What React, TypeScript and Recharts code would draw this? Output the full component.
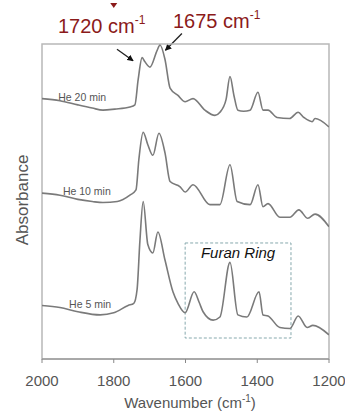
import React from 'react';
import { LineChart, Line, XAxis, YAxis, ReferenceArea, Customized } from 'recharts';

// ---- data (wavenumber cm-1, absorbance a.u. with vertical offsets) ----
const wn20 = [2000, 1950, 1900, 1860, 1830, 1797, 1755, 1741, 1732, 1721, 1713, 1699, 1679, 1671, 1657, 1643, 1621, 1601, 1579, 1546, 1518, 1504, 1487, 1476, 1465, 1454, 1438, 1420, 1398, 1384, 1370, 1345, 1310, 1286, 1270, 1247, 1239, 1200];
const ab20 = [2.48, 2.46, 2.42, 2.39, 2.37, 2.38, 2.40, 2.42, 2.66, 2.87, 2.83, 2.78, 2.94, 2.99, 2.85, 2.58, 2.51, 2.45, 2.48, 2.37, 2.32, 2.35, 2.47, 2.69, 2.51, 2.37, 2.36, 2.37, 2.54, 2.37, 2.37, 2.30, 2.29, 2.35, 2.30, 2.26, 2.29, 2.21];

const wn10 = [2000, 1950, 1900, 1860, 1830, 1790, 1755, 1738, 1730, 1718, 1705, 1691, 1674, 1657, 1643, 1615, 1601, 1579, 1532, 1504, 1476, 1456, 1420, 1398, 1384, 1370, 1337, 1309, 1284, 1259, 1239, 1200];
const ab10 = [1.58, 1.56, 1.52, 1.50, 1.49, 1.50, 1.56, 1.61, 1.90, 2.16, 2.04, 1.94, 2.15, 1.96, 1.69, 1.64, 1.59, 1.66, 1.47, 1.47, 1.85, 1.50, 1.47, 1.66, 1.45, 1.48, 1.35, 1.35, 1.42, 1.34, 1.38, 1.26];

const wn5 = [2000, 1950, 1900, 1838, 1800, 1760, 1744, 1735, 1727, 1718, 1705, 1691, 1677, 1657, 1635, 1621, 1601, 1576, 1562, 1551, 1523, 1504, 1476, 1454, 1429, 1395, 1384, 1370, 1337, 1309, 1286, 1261, 1245, 1200];
const ab5 = [0.51, 0.49, 0.45, 0.42, 0.44, 0.51, 0.53, 0.66, 1.13, 1.50, 1.09, 1.01, 1.21, 0.94, 0.64, 0.53, 0.44, 0.64, 0.54, 0.45, 0.37, 0.40, 0.92, 0.42, 0.40, 0.64, 0.42, 0.41, 0.30, 0.29, 0.41, 0.30, 0.32, 0.23];

const xTicks = [2000, 1800, 1600, 1400, 1200];
const seriesLabels = ['He 20 min', 'He 10 min', 'He 5 min'];
const labelPos = [
  { w: 1888, a: 2.50 },
  { w: 1875, a: 1.60 },
  { w: 1866, a: 0.52 },
];
const peakLabels = ['1720', '1675'];
const furanBox = { x1: 1601, x2: 1306, y1: 0.2, y2: 1.105 };

const zip = (w: number[], a: number[]) => w.map((v, i) => ({ w: v, a: a[i] }));
const d20 = zip(wn20, ab20);
const d10 = zip(wn10, ab10);
const d5 = zip(wn5, ab5);

// ---- layout ----
const W = 345;
const H = 412;
const PL = 42;
const PR = 329;
const PT = 44;
const PB = 359;
const XMIN = 1200;
const XMAX = 2000;
const YMAX = 3;
const xPx = (w: number) => PL + ((XMAX - w) / (XMAX - XMIN)) * (PR - PL);
const yPx = (a: number) => PB - (a / YMAX) * (PB - PT);

const FONT = '"Liberation Sans", Arial, sans-serif';
const RED = '#8b1a1a';
const LINE = '#7a7a7a';

function Annotations() {
  return (
    <g fontFamily={FONT}>
      <defs>
        <marker id="ah" viewBox="0 0 10 10" refX="9" refY="5" markerWidth="5" markerHeight="5" orient="auto">
          <path d="M0,0 L10,5 L0,10 z" fill="#111" />
        </marker>
      </defs>
      {/* peak markers */}
      <polygon points={`${xPx(1800) - 3.5},3 ${xPx(1800) + 3.5},3 ${xPx(1800)},8`} fill={RED} />
      <text x={58} y={33} fontSize={20} fill={RED}>
        {peakLabels[0]} cm<tspan fontSize={12} dy={-9}>-1</tspan>
      </text>
      <text x={173} y={28} fontSize={20} fill={RED}>
        {peakLabels[1]} cm<tspan fontSize={12} dy={-9}>-1</tspan>
      </text>
      <line x1={xPx(1791)} y1={yPx(2.95)} x2={xPx(1746)} y2={yPx(2.84)} stroke="#222" strokeWidth={1.3} markerEnd="url(#ah)" />
      <line x1={xPx(1610)} y1={yPx(3.10)} x2={xPx(1656)} y2={yPx(2.94)} stroke="#222" strokeWidth={1.3} markerEnd="url(#ah)" />
      {/* series labels */}
      {seriesLabels.map((s, i) => (
        <text key={s} x={xPx(labelPos[i].w)} y={yPx(labelPos[i].a)} fontSize={10.5} fill="#555" textAnchor="middle" dominantBaseline="central">
          {s}
        </text>
      ))}
      {/* furan ring */}
      <text x={(xPx(furanBox.x1) + xPx(furanBox.x2)) / 2} y={yPx(furanBox.y2) + 15} fontSize={15} fontStyle="italic" fill="#111" textAnchor="middle">
        Furan Ring
      </text>
      {/* axis titles */}
      <text x={22} y={200} fontSize={17} fill="#555" textAnchor="middle" dominantBaseline="central" transform="rotate(-90 22 200)">
        Absorbance
      </text>
      <text x={190} y={408} fontSize={15} fill="#555" textAnchor="middle">
        Wavenumber (cm<tspan fontSize={10} dy={-6}>-1</tspan><tspan dy={6}>)</tspan>
      </text>
    </g>
  );
}

export default function App() {
  return (
    <div style={{ position: 'absolute', left: 0, top: 0, width: W, height: H, background: '#fff' }}>
      <LineChart width={W} height={H} margin={{ top: PT, right: W - PR, left: PL, bottom: 0 }}>
        <XAxis
          type="number"
          dataKey="w"
          domain={[XMIN, XMAX]}
          reversed
          ticks={xTicks}
          height={H - PB}
          tickSize={4}
          tickMargin={12}
          stroke="#888"
          tick={{ fill: '#555', fontSize: 15, fontFamily: FONT }}
          allowDataOverflow
        />
        <YAxis type="number" dataKey="a" domain={[0, YMAX]} hide allowDataOverflow />
        <ReferenceArea x1={XMAX} x2={XMIN} y1={0} y2={YMAX} fill="none" stroke="#b8b8b8" strokeWidth={1.5} ifOverflow="visible" />
        <ReferenceArea x1={furanBox.x1} x2={furanBox.x2} y1={furanBox.y1} y2={furanBox.y2} fill="none" stroke="#86a9ad" strokeDasharray="3 2" strokeWidth={1} />
        <Line data={d20} dataKey="a" type="monotone" stroke={LINE} strokeWidth={1.6} dot={false} isAnimationActive={false} />
        <Line data={d10} dataKey="a" type="monotone" stroke={LINE} strokeWidth={1.6} dot={false} isAnimationActive={false} />
        <Line data={d5} dataKey="a" type="monotone" stroke={LINE} strokeWidth={1.6} dot={false} isAnimationActive={false} />
        <Customized component={<Annotations />} />
      </LineChart>
    </div>
  );
}
